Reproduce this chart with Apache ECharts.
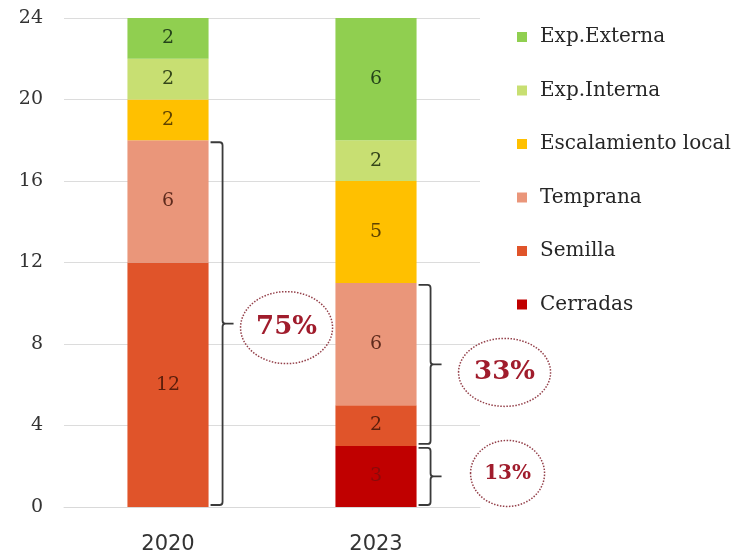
<!DOCTYPE html>
<html>
<head>
<meta charset="utf-8">
<script src="https://cdn.jsdelivr.net/npm/echarts@6/dist/echarts.min.js"></script>
<style>
  html, body { margin: 0; padding: 0; background: #ffffff; }
  #chart { width: 754px; height: 555px; }
</style>
</head>
<body>
<div id="chart"></div>
<script>
// Categories and stacked values (bottom to top)
const years = ['2020', '2023'];
const cerradas = [0, 3];
const semilla = [12, 2];
const temprana = [6, 6];
const escalamiento = [2, 5];
const expInterna = [2, 2];
const expExterna = [2, 6];
const yTicks = [0, 4, 8, 12, 16, 20, 24];

// Bracketed ranges and their share labels
const bracketYear = ['2020', '2023', '2023'];
const bracketFrom = [0, 3, 0];
const bracketTo = [18, 11, 3];
const bracketText = ['75%', '33%', '13%'];

// Layout of the dotted badges next to each bracket
const badgeLayout = [
  { dx: 64, dy: 4, rx: 46, ry: 36, size: 26 },
  { dx: 74, dy: 8, rx: 46, ry: 34, size: 26 },
  { dx: 77, dy: -3, rx: 37, ry: 33, size: 20 }
];

const BAR_RATIO = 0.39;

function barSeries(name, data, color, labelColor) {
  return {
    name: name,
    type: 'bar',
    stack: 'total',
    barWidth: (BAR_RATIO * 100) + '%',
    data: data,
    itemStyle: { color: color },
    label: {
      show: true,
      position: 'inside',
      color: labelColor,
      fontFamily: 'DejaVu Serif',
      fontSize: 19,
      formatter: p => (p.value ? String(p.value) : '')
    },
    emphasis: { disabled: true }
  };
}

const chart = echarts.init(document.getElementById('chart'));

chart.setOption({
  animation: false,
  backgroundColor: '#ffffff',
  grid: { left: 64, right: 274, top: 18, bottom: 48 },
  legend: {
    orient: 'vertical',
    left: 517,
    top: 27,
    padding: 0,
    icon: 'rect',
    itemWidth: 10,
    itemHeight: 10,
    itemGap: 33.5,
    data: ['Exp.Externa', 'Exp.Interna', 'Escalamiento local', 'Temprana', 'Semilla', 'Cerradas'],
    textStyle: {
      fontFamily: 'DejaVu Serif',
      fontSize: 20,
      lineHeight: 20,
      color: '#262626',
      padding: [0, 0, 0, 8]
    }
  },
  xAxis: {
    type: 'category',
    data: years,
    axisLine: { show: true, lineStyle: { color: '#d9d9d9', width: 1 } },
    axisTick: { show: false },
    axisLabel: {
      color: '#333333',
      fontFamily: 'DejaVu Sans',
      fontSize: 21,
      margin: 27
    }
  },
  yAxis: {
    type: 'value',
    min: yTicks[0],
    max: yTicks[yTicks.length - 1],
    interval: yTicks[1] - yTicks[0],
    axisLine: { show: false },
    axisTick: { show: false },
    splitLine: { lineStyle: { color: '#dcdcdc', width: 1 } },
    axisLabel: {
      color: '#333333',
      fontFamily: 'DejaVu Serif',
      fontSize: 19,
      margin: 21
    }
  },
  series: [
    barSeries('Cerradas', cerradas, '#c00000', '#8a0a0a'),
    barSeries('Semilla', semilla, '#e0542a', '#5a1e0c'),
    barSeries('Temprana', temprana, '#ea967a', '#5e2a1c'),
    barSeries('Escalamiento local', escalamiento, '#ffc000', '#5e4200'),
    barSeries('Exp.Interna', expInterna, '#c8df72', '#34461a'),
    barSeries('Exp.Externa', expExterna, '#90cf50', '#24431a'),
    {
      name: 'brackets',
      type: 'custom',
      z: 5,
      silent: true,
      data: bracketYear.map((y, i) => [years.indexOf(y), bracketFrom[i], bracketTo[i]]),
      encode: { x: 0, y: [1, 2] },
      renderItem: function (params, api) {
        const i = params.dataIndex;
        const cat = api.value(0);
        const pTop = api.coord([cat, api.value(2)]);
        const pBot = api.coord([cat, api.value(1)]);
        const half = api.size([1, 0])[0] * BAR_RATIO / 2;
        const barRight = pTop[0] + half;
        const bx = barRight + 14;
        const x0 = barRight + 2;
        const yT = pTop[1] + 2;
        const yB = pBot[1] - 2;
        const yM = (yT + yB) / 2;
        const r = 3;
        const path =
          'M' + x0 + ' ' + yT +
          ' L' + (bx - r) + ' ' + yT +
          ' Q' + bx + ' ' + yT + ' ' + bx + ' ' + (yT + r) +
          ' L' + bx + ' ' + (yM - r) +
          ' Q' + bx + ' ' + yM + ' ' + (bx + r) + ' ' + yM +
          ' L' + (bx + 11) + ' ' + yM +
          ' M' + (bx + r) + ' ' + yM +
          ' Q' + bx + ' ' + yM + ' ' + bx + ' ' + (yM + r) +
          ' L' + bx + ' ' + (yB - r) +
          ' Q' + bx + ' ' + yB + ' ' + (bx - r) + ' ' + yB +
          ' L' + x0 + ' ' + yB;
        const b = badgeLayout[i];
        const cx = bx + b.dx;
        const cy = yM + b.dy;
        return {
          type: 'group',
          children: [
            {
              type: 'path',
              shape: { pathData: path },
              style: { fill: 'none', stroke: '#3a3a3a', lineWidth: 1.8 }
            },
            {
              type: 'ellipse',
              shape: { cx: cx, cy: cy, rx: b.rx, ry: b.ry },
              style: { fill: 'none', stroke: '#94404a', lineWidth: 1.5, lineDash: [1.5, 1.5] }
            },
            {
              type: 'text',
              style: {
                text: bracketText[i],
                x: cx,
                y: cy,
                align: 'center',
                verticalAlign: 'middle',
                fill: '#a01c2c',
                font: 'bold ' + b.size + 'px "DejaVu Serif"'
              }
            }
          ]
        };
      }
    }
  ]
});
</script>
</body>
</html>
